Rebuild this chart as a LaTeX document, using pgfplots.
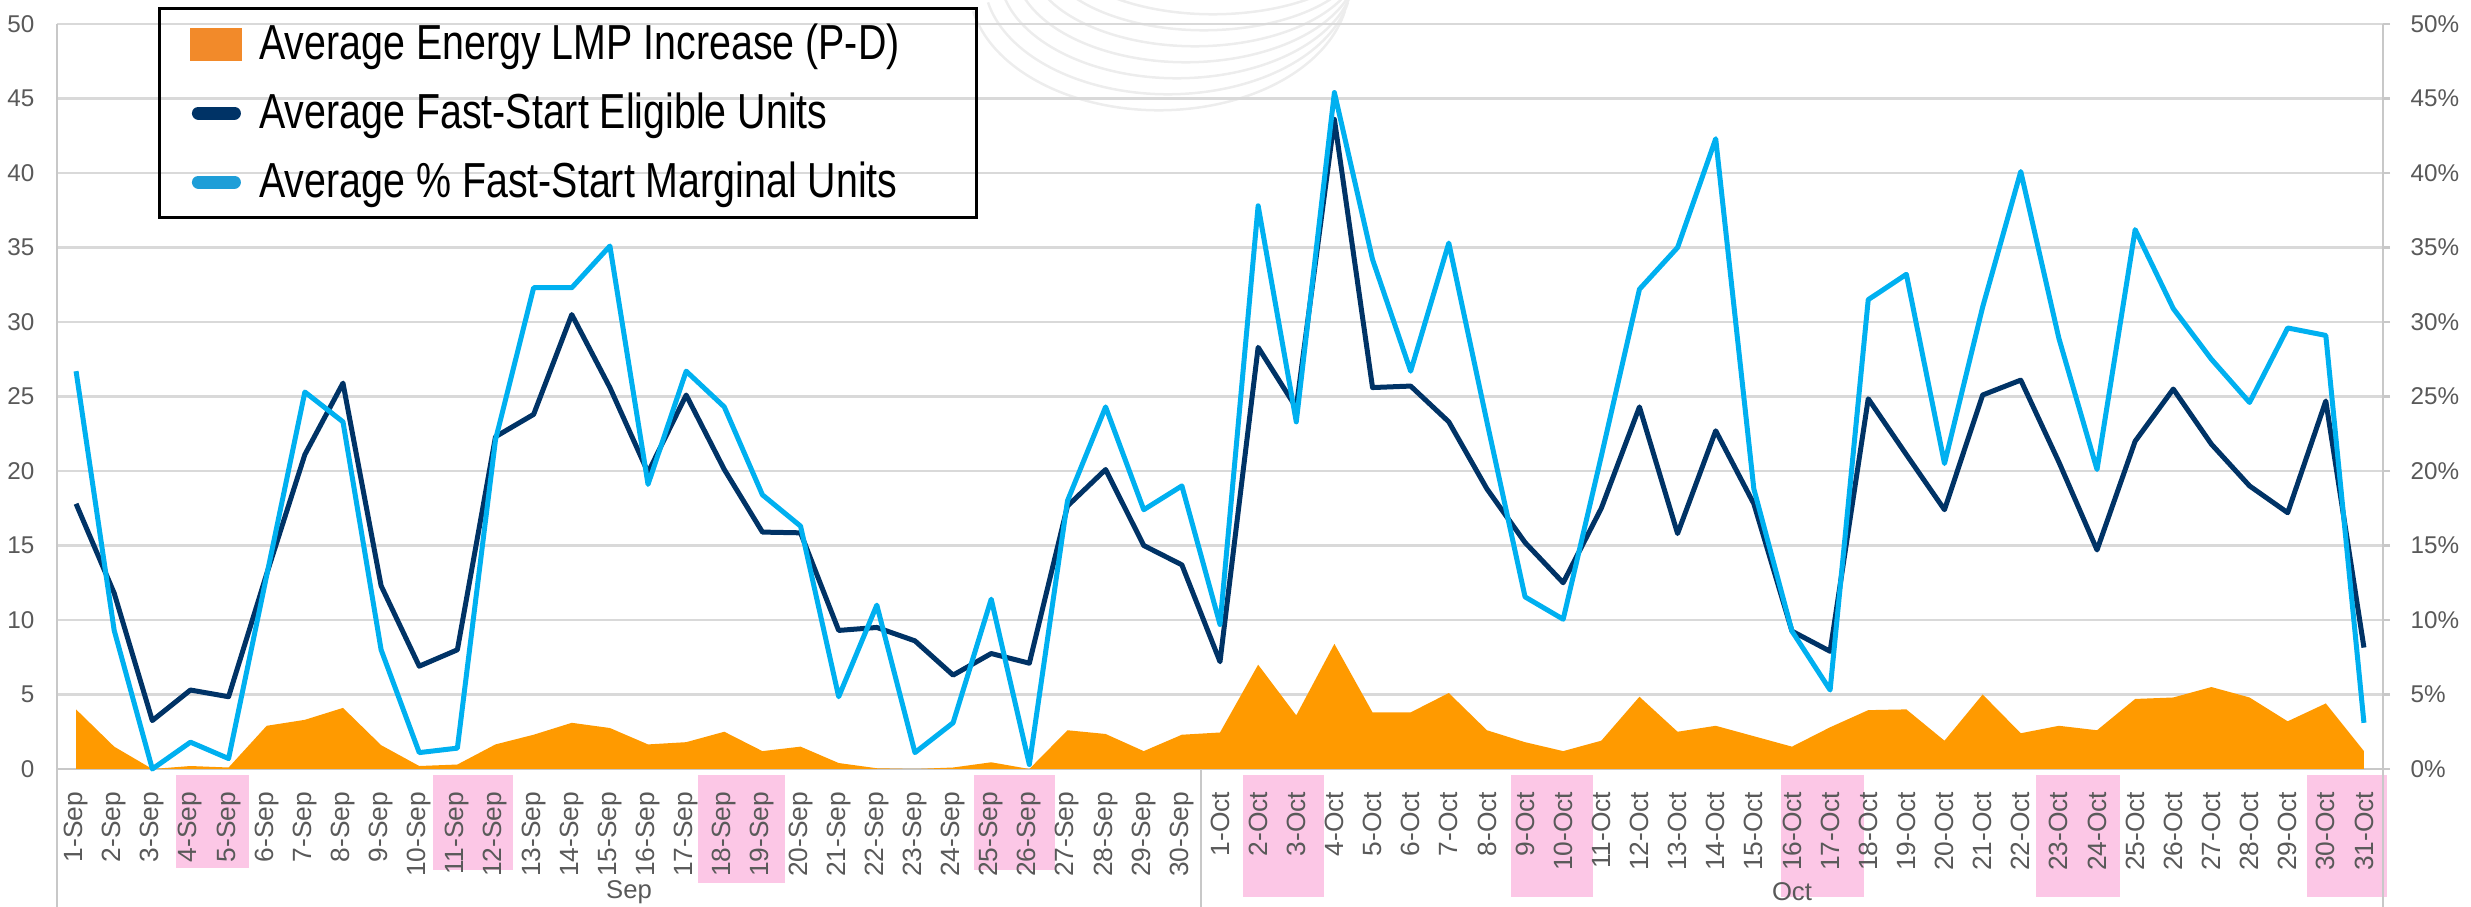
\documentclass[border=0pt]{standalone}
\usepackage{fontspec}
\setmainfont{Liberation Sans}
\newfontfamily\legfont{Liberation Sans}[FakeStretch=0.8]
\usepackage{pgfplots}
\usepackage{pgfplotstable}
\pgfplotsset{compat=1.18}
\usetikzlibrary{calc}
\pgfplotsset{/pgf/number format/assume math mode=true}

\definecolor{lmporange}{HTML}{FF9A00}
\definecolor{legorange}{HTML}{F28A2A}
\definecolor{navy}{HTML}{003366}
\definecolor{skyblue}{HTML}{00B0F0}
\definecolor{legblue}{HTML}{1E9ED8}
\definecolor{wkpink}{HTML}{FCC7E6}
\definecolor{gridgray}{HTML}{D9D9D9}
\definecolor{axgray}{HTML}{C8C8C8}
\definecolor{txtgray}{HTML}{595959}

% idx: day index (0 = 1-Sep), lmp: avg LMP increase, elig: eligible units, marg: % marginal units
\pgfplotstableread{
idx lmp elig marg
0 4.0 17.8 26.7
1 1.5 11.8 9.3
2 0.0 3.25 0.0
3 0.2 5.3 1.8
4 0.1 4.85 0.7
5 2.9 13.1 13.0
6 3.3 21.1 25.3
7 4.1 25.9 23.3
8 1.6 12.3 8.0
9 0.2 6.9 1.1
10 0.3 8.0 1.4
11 1.65 22.3 22.1
12 2.3 23.8 32.3
13 3.1 30.5 32.3
14 2.75 25.6 35.1
15 1.65 19.9 19.1
16 1.8 25.1 26.7
17 2.5 20.1 24.3
18 1.2 15.9 18.4
19 1.5 15.85 16.3
20 0.4 9.3 4.85
21 0.05 9.5 11.0
22 0.0 8.6 1.1
23 0.1 6.3 3.1
24 0.45 7.75 11.4
25 0.0 7.1 0.3
26 2.6 17.65 18.0
27 2.35 20.1 24.3
28 1.2 15.0 17.4
29 2.3 13.7 19.0
30 2.45 7.2 9.7
31 7.0 28.3 37.8
32 3.6 24.25 23.3
33 8.4 43.6 45.4
34 3.8 25.6 34.2
35 3.8 25.7 26.7
36 5.1 23.3 35.3
37 2.6 18.8 23.3
38 1.8 15.2 11.55
39 1.2 12.5 10.05
40 1.9 17.5 21.0
41 4.85 24.3 32.2
42 2.5 15.8 35.0
43 2.9 22.7 42.3
44 2.2 17.8 18.8
45 1.5 9.25 9.25
46 2.8 7.9 5.3
47 3.95 24.85 31.5
48 4.0 21.1 33.2
49 1.9 17.4 20.5
50 5.0 25.1 31.0
51 2.4 26.1 40.1
52 2.9 20.6 28.9
53 2.6 14.7 20.1
54 4.7 22.0 36.2
55 4.8 25.5 30.9
56 5.5 21.8 27.5
57 4.8 19.0 24.6
58 3.2 17.2 29.6
59 4.4 24.7 29.1
60 1.2 8.15 3.1
}\fsdata

\newcommand{\legtext}[1]{\makebox[68.6mm][l]{#1}}

\pgfplotsset{
  frame/.style={at={(0,0)}, anchor=south west, scale only axis,
    width=232.6mm, height=74.5mm,
    xmin=-0.5, xmax=60.5, ymin=0, ymax=50, clip=false},
}

\begin{document}
\begin{tikzpicture}
\path[use as bounding box] (-5.7mm,-13.8mm) rectangle (241.4mm,76.9mm);

% weekend highlight boxes and watermark
\begin{axis}[frame, hide axis]
  \fill[wkpink] (axis cs:2.63,-0.4) rectangle (axis cs:4.54,-6.64);
  \fill[wkpink] (axis cs:9.36,-0.4) rectangle (axis cs:11.47,-6.78);
  \fill[wkpink] (axis cs:16.3,-0.4) rectangle (axis cs:18.6,-7.65);
  \fill[wkpink] (axis cs:23.55,-0.4) rectangle (axis cs:25.66,-6.78);
  \fill[wkpink] (axis cs:30.59,-0.4) rectangle (axis cs:32.72,-8.6);
  \fill[wkpink] (axis cs:37.63,-0.4) rectangle (axis cs:39.78,-8.6);
  \fill[wkpink] (axis cs:44.7,-0.4) rectangle (axis cs:46.9,-8.6);
  \fill[wkpink] (axis cs:51.4,-0.4) rectangle (axis cs:53.6,-8.6);
  \fill[wkpink] (axis cs:58.5,-0.4) rectangle (axis cs:60.6,-8.6);
  \pgfplotsinvokeforeach{0,...,9}{
    \draw[black!7, line width=0.25mm]
      ($(axis cs:28.4,52.6)+(#1*0.9mm,#1*0.7mm)+(192:{19mm-#1*0.6mm} and {12.5mm-#1*0.9mm})$)
      arc[start angle=192, end angle=348, x radius={19mm-#1*0.6mm}, y radius={12.5mm-#1*0.9mm}];
  }
\end{axis}

% LMP area and eligible units
\begin{axis}[frame,
  axis x line=bottom, axis y line=left,
  axis line style={axgray, line width=0.6pt, -},
  ytick={0,5,...,50}, ymajorgrids,
  grid style={gridgray, line width=0.6pt},
  major tick length=0pt,
  xtick={0,...,60},
  xticklabels={1-Sep,2-Sep,3-Sep,4-Sep,5-Sep,6-Sep,7-Sep,8-Sep,9-Sep,10-Sep,
    11-Sep,12-Sep,13-Sep,14-Sep,15-Sep,16-Sep,17-Sep,18-Sep,19-Sep,20-Sep,
    21-Sep,22-Sep,23-Sep,24-Sep,25-Sep,26-Sep,27-Sep,28-Sep,29-Sep,30-Sep,
    1-Oct,2-Oct,3-Oct,4-Oct,5-Oct,6-Oct,7-Oct,8-Oct,9-Oct,10-Oct,
    11-Oct,12-Oct,13-Oct,14-Oct,15-Oct,16-Oct,17-Oct,18-Oct,19-Oct,20-Oct,
    21-Oct,22-Oct,23-Oct,24-Oct,25-Oct,26-Oct,27-Oct,28-Oct,29-Oct,30-Oct,31-Oct},
  x tick label style={rotate=90, anchor=east, inner sep=0pt,
    font=\fontsize{7.5}{8}\selectfont, text=txtgray},
  xticklabel shift=2.2mm,
  y tick label style={inner sep=0pt, font=\fontsize{6.9}{8}\selectfont, text=txtgray},
  yticklabel shift=2.2mm,
]
  \addplot[fill=lmporange, draw=none] table[x=idx, y=lmp]{\fsdata} \closedcycle;
  \addplot[navy, line width=0.5mm, line join=round] table[x=idx, y=elig]{\fsdata};
  \draw[axgray, line width=0.6pt] (axis cs:29.5,0) -- (axis cs:29.5,-9.3);
  \draw[axgray, line width=0.6pt] (axis cs:-0.5,0) -- (axis cs:-0.5,-9.3);
  \draw[axgray, line width=0.6pt] (axis cs:60.5,0) -- (axis cs:60.5,-9.3);
  \node[text=txtgray, font=\fontsize{7.3}{8}\selectfont] at (axis cs:14.5,-8.25) {Sep};
  \node[text=txtgray, font=\fontsize{7.3}{8}\selectfont] at (axis cs:45,-8.25) {Oct};
\end{axis}

% % marginal units on the right axis, with the legend
\begin{axis}[frame,
  axis x line=none, axis y line*=right,
  axis line style={axgray, line width=0.6pt, -},
  ytick={0,5,...,50},
  yticklabel={\pgfmathprintnumber{\tick}\%},
  tick align=outside, major tick length=0.7mm,
  tick style={axgray, line width=0.6pt},
  y tick label style={inner sep=0pt, font=\fontsize{6.9}{8}\selectfont, text=txtgray},
  yticklabel shift=2.0mm,
  legend cell align=left,
  legend style={at={(0.0434,1.0228)}, anchor=north west,
    draw=black, line width=0.85pt, fill=none,
    inner xsep=3.1mm, inner ysep=1.0mm, row sep=1.8mm, column sep=1.7mm,
    font=\legfont\fontsize{14}{16}\selectfont,
    nodes={inner sep=0pt, text height=4.1mm, text depth=1.0mm}},
]
  \addlegendimage{legend image code/.code={
    \fill[legorange] (0mm,-1.5mm) rectangle (4.9mm,1.5mm);}}
  \addlegendentry{\legtext{Average Energy LMP Increase (P-D)}}
  \addlegendimage{legend image code/.code={
    \draw[navy, line width=1.3mm, line cap=round] (0.65mm,0) -- (4.25mm,0);}}
  \addlegendentry{\legtext{Average Fast-Start Eligible Units}}
  \addplot[skyblue, line width=0.5mm, line join=round,
    legend image code/.code={
      \draw[legblue, line width=1.3mm, line cap=round] (0.65mm,0) -- (4.25mm,0);}]
    table[x=idx, y=marg]{\fsdata};
  \addlegendentry{\legtext{Average \% Fast-Start Marginal Units}}
\end{axis}
\end{tikzpicture}
\end{document}
